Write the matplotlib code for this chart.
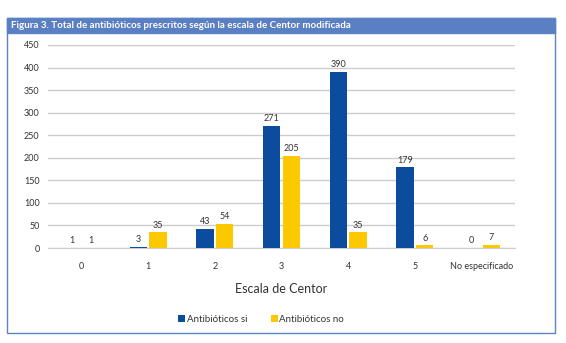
import matplotlib
matplotlib.use("Agg")
import matplotlib.pyplot as plt
import numpy as np
from matplotlib.patches import Rectangle

categories = ["0", "1", "2", "3", "4", "5", "No especificado"]
antibioticos_si = [1, 3, 43, 271, 390, 179, 0]
antibioticos_no = [1, 35, 54, 205, 35, 6, 7]
yticks = [0, 50, 100, 150, 200, 250, 300, 350, 400, 450]

plt.rcParams["font.family"] = ["Lato", "DejaVu Sans"]

W, H = 566, 343
fig = plt.figure(figsize=(W / 100, H / 100), dpi=100)
fig.patch.set_facecolor("white")

# outer frame and title bar
frame = Rectangle((7 / W, 1 - 333 / H), 548 / W, 315 / H, transform=fig.transFigure,
                  fill=False, edgecolor="#5b84c4", linewidth=1.0)
fig.patches.append(frame)
bar = Rectangle((7 / W, 1 - 33 / H), 548 / W, 15 / H, transform=fig.transFigure,
                facecolor="#5a7fc2", edgecolor="#5b84c4", linewidth=1.0)
fig.patches.append(bar)
fig.text(11 / W, 1 - 25.5 / H,
         "Figura 3. Total de antibióticos prescritos según la escala de Centor modificada",
         color="white", fontsize=7.0, fontweight="bold", va="center", ha="left")

ax = fig.add_axes([48 / W, 1 - 248 / H, 467 / W, 203 / H])
x = np.arange(len(categories))
w = 0.26
off = 0.148
c_si = "#0b4c9e"
c_no = "#fcc900"
txt = "#333333"
b1 = ax.bar(x - off, antibioticos_si, width=w, color=c_si, label="Antibióticos si", zorder=3)
b2 = ax.bar(x + off, antibioticos_no, width=w, color=c_no, label="Antibióticos no", zorder=3)
for rects, vals in ((b1, antibioticos_si), (b2, antibioticos_no)):
    for r, v in zip(rects, vals):
        ax.text(r.get_x() + r.get_width() / 2, v + 6, str(v), ha="center", va="bottom",
                fontsize=6.5, color=txt)

ax.set_xlim(-0.5, len(categories) - 0.5)
ax.set_ylim(0, 450)
ax.set_yticks(yticks)
ax.set_xticks(x)
ax.set_xticklabels(categories)
ax.tick_params(axis="both", length=0, labelsize=6.5, colors=txt)
ax.tick_params(axis="y", pad=6)
ax.tick_params(axis="x", pad=10)
ax.grid(axis="y", color="#cccccc", linewidth=1.0, zorder=0)
for s in ("top", "right", "left"):
    ax.spines[s].set_visible(False)
ax.spines["bottom"].set_color("#cccccc")
ax.set_xlabel("Escala de Centor", fontsize=9, labelpad=9, color=txt)

leg = fig.legend(handles=[b1, b2], loc="center", bbox_to_anchor=(261 / W, 1 - 319 / H),
                 ncol=2, frameon=False, fontsize=7, handlelength=0.75, handleheight=0.75,
                 handletextpad=0.15, columnspacing=2.4)
for t in leg.get_texts():
    t.set_color(txt)

fig.savefig("out.png", dpi=100)
